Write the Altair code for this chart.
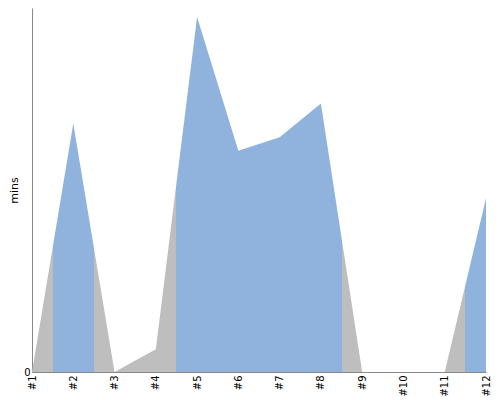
import altair as alt
import pandas as pd

labels = ["#1", "#2", "#3", "#4", "#5", "#6", "#7", "#8", "#9", "#10", "#11", "#12"]
mins = [0, 27.3, 0, 2.5, 39.0, 24.3, 25.8, 29.5, 0, 0, 0, 19.1]
highlight = [0, 1, 0, 0, 1, 1, 1, 1, 0, 0, 0, 1]

df = pd.DataFrame({"label": labels, "mins": mins})

GRAY = "#bebebe"
BLUE = "#8fb3dc"
n = len(labels)
stops = []
for i, h in enumerate(highlight):
    c = BLUE if h else GRAY
    a = max(0.0, (i - 0.5) / (n - 1))
    b = min(1.0, (i + 0.5) / (n - 1))
    stops.append(alt.GradientStop(offset=a, color=c))
    stops.append(alt.GradientStop(offset=b, color=c))

FONT = "DejaVu Sans"

chart = alt.Chart(df).mark_area(
    color=alt.Gradient(gradient="linear", stops=stops, x1=0, x2=1, y1=0, y2=0),
    interpolate="linear",
).encode(
    x=alt.X("label:O", sort=labels, scale=alt.Scale(type="point", padding=0),
            axis=alt.Axis(title=None, labelAngle=270, ticks=False, labelFontSize=10,
                          labelFont=FONT, labelColor="#000", domainColor="#888",
                          labelPadding=3)),
    y=alt.Y("mins:Q", scale=alt.Scale(domain=[0, 40], nice=False),
            axis=alt.Axis(values=[0], grid=False, ticks=False, title="mins",
                          titleFont=FONT, labelFont=FONT,
                          titleFontWeight="normal", titleFontSize=11, labelFontSize=10,
                          labelColor="#000", domainColor="#888", titlePadding=4)),
).properties(
    width=454, height=364, padding={"left": 0, "top": 0, "right": 0, "bottom": 0}
).configure_view(stroke=None)

chart.save("out.html", embed_options={"renderer": "svg", "actions": False})
